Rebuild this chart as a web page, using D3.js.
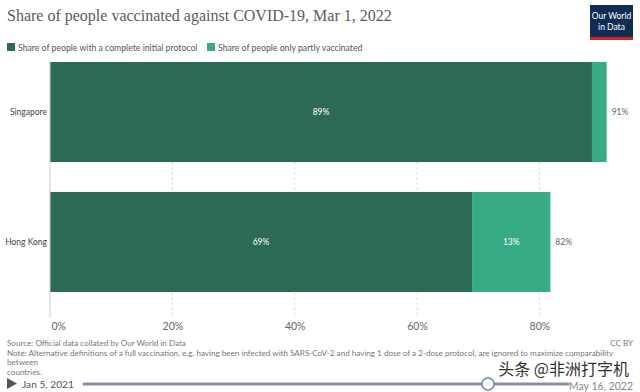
<!DOCTYPE html>
<html>
<head>
<meta charset="utf-8">
<script src="https://cdn.jsdelivr.net/npm/d3@7"></script>
<style>
  body { margin: 0; background: #fff; }
  svg { display: block; font-family: Lato, "DejaVu Sans", sans-serif; }
</style>
</head>
<body>
<script>
// chart values
var countries = ["Singapore", "Hong Kong"];
var complete = [88.6, 69.0];
var partly = [2.4, 12.8];
var seriesNames = ["Share of people with a complete initial protocol", "Share of people only partly vaccinated"];
var ticks = [0, 20, 40, 60, 80];

var width = 640, height = 392;
var colors = ["#2d6a55", "#36ab86"];

var svg = d3.select("body").append("svg")
  .attr("width", width)
  .attr("height", height);

// title
svg.append("text")
  .attr("x", 7).attr("y", 21)
  .attr("font-family", "'Liberation Serif', 'DejaVu Serif', serif")
  .attr("font-size", 16)
  .attr("fill", "#5b5b5b")
  .text("Share of people vaccinated against COVID-19, Mar 1, 2022");

// logo
var logo = svg.append("g").attr("transform", "translate(590,5)");
logo.append("rect").attr("width", 43).attr("height", 35).attr("fill", "#0f2d52");
logo.append("rect").attr("y", 32).attr("width", 43).attr("height", 3).attr("fill", "#ce261e");
logo.append("text").attr("x", 21.5).attr("y", 14).attr("text-anchor", "middle")
  .attr("font-size", 8.5).attr("fill", "#fff").text("Our World");
logo.append("text").attr("x", 21.5).attr("y", 25).attr("text-anchor", "middle")
  .attr("font-size", 8.5).attr("fill", "#fff").text("in Data");

// legend
var legendX = [7, 207];
var legend = svg.selectAll(".legend")
  .data(seriesNames)
  .enter().append("g")
    .attr("class", "legend")
    .attr("transform", function(d, i) { return "translate(" + legendX[i] + ",43)"; });
legend.append("rect").attr("width", 8).attr("height", 8)
  .attr("fill", function(d, i) { return colors[i]; });
legend.append("text").attr("x", 11).attr("y", 7.5)
  .attr("font-size", 8.7).attr("fill", "#555")
  .text(function(d) { return d; });

// scales
var x = d3.scaleLinear().domain([0, 100]).range([50, 661.7]);
var y = d3.scaleBand().domain(countries).range([62, 292]).paddingInner(0.23);

// gridlines
svg.selectAll(".grid")
  .data(ticks.slice(1))
  .enter().append("line")
    .attr("class", "grid")
    .attr("x1", function(d) { return x(d); })
    .attr("x2", function(d) { return x(d); })
    .attr("y1", 62).attr("y2", 318)
    .attr("stroke", "#ddd")
    .attr("stroke-dasharray", "3,2");

// axis tick labels
var xAxis = d3.axisBottom(x)
  .tickValues(ticks)
  .tickSize(0)
  .tickFormat(function(d) { return d + "%"; });
var axisG = svg.append("g")
  .attr("transform", "translate(0,321)")
  .call(xAxis);
axisG.select(".domain").remove();
axisG.selectAll("text")
  .attr("font-family", "Lato, sans-serif")
  .attr("font-size", 10.5)
  .attr("fill", "#666")
  .attr("dy", "0.6em")
  .attr("text-anchor", function(d) { return d === 0 ? "start" : "middle"; })
  .attr("dx", function(d) { return d === 0 ? 1 : 0; });

// bars
var rows = countries.map(function(c, i) {
  return { country: c, complete: complete[i], partly: partly[i] };
});

var row = svg.selectAll(".row")
  .data(rows)
  .enter().append("g")
    .attr("class", "row");

row.append("rect")
  .attr("x", x(0))
  .attr("y", function(d) { return y(d.country); })
  .attr("width", function(d) { return x(d.complete) - x(0); })
  .attr("height", y.bandwidth())
  .attr("fill", colors[0]);

row.append("rect")
  .attr("x", function(d) { return x(d.complete); })
  .attr("y", function(d) { return y(d.country); })
  .attr("width", function(d) { return x(d.complete + d.partly) - x(d.complete); })
  .attr("height", y.bandwidth())
  .attr("fill", colors[1]);

// value labels
row.append("text")
  .attr("x", function(d) { return (x(0) + x(d.complete)) / 2; })
  .attr("y", function(d) { return y(d.country) + y.bandwidth() / 2; })
  .attr("dy", "0.35em")
  .attr("text-anchor", "middle")
  .attr("font-size", 8.5).attr("fill", "#fff")
  .text(function(d) { return Math.round(d.complete) + "%"; });

row.filter(function(d) { return x(d.complete + d.partly) - x(d.complete) > 25; })
  .append("text")
  .attr("x", function(d) { return (x(d.complete) + x(d.complete + d.partly)) / 2; })
  .attr("y", function(d) { return y(d.country) + y.bandwidth() / 2; })
  .attr("dy", "0.35em")
  .attr("text-anchor", "middle")
  .attr("font-size", 8.5).attr("fill", "#fff")
  .text(function(d) { return Math.round(d.partly) + "%"; });

row.append("text")
  .attr("x", function(d) { return x(d.complete + d.partly) + 5; })
  .attr("y", function(d) { return y(d.country) + y.bandwidth() / 2; })
  .attr("dy", "0.35em")
  .attr("font-size", 8.5).attr("fill", "#666")
  .text(function(d) { return Math.round(d.complete + d.partly) + "%"; });

// country labels
row.append("text")
  .attr("x", 47)
  .attr("y", function(d) { return y(d.country) + y.bandwidth() / 2; })
  .attr("dy", "0.35em")
  .attr("text-anchor", "end")
  .attr("font-size", 8.5).attr("fill", "#444")
  .text(function(d) { return d.country; });

// zero line
svg.append("line")
  .attr("x1", x(0)).attr("x2", x(0))
  .attr("y1", 62).attr("y2", 318)
  .attr("stroke", "#ccc");

// footer
var foot = svg.append("g").attr("font-size", 8.1).attr("fill", "#777");
foot.append("text").attr("x", 7).attr("y", 346)
  .text("Source: Official data collated by Our World in Data");
foot.append("text").attr("x", 633).attr("y", 346).attr("text-anchor", "end")
  .text("CC BY");
foot.append("text").attr("x", 7).attr("y", 355.5)
  .text("Note: Alternative definitions of a full vaccination, e.g. having been infected with SARS-CoV-2 and having 1 dose of a 2-dose protocol, are ignored to maximize comparability");
foot.append("text").attr("x", 7).attr("y", 365).text("between");
foot.append("text").attr("x", 7).attr("y", 374.5).text("countries.");

// timeline
svg.append("path")
  .attr("d", "M7,378 L17,383.5 L7,389 Z")
  .attr("fill", "#555");
svg.append("text").attr("x", 22).attr("y", 388)
  .attr("font-size", 10.2).attr("fill", "#555")
  .text("Jan 5, 2021");
svg.append("line")
  .attr("x1", 84).attr("x2", 568)
  .attr("y1", 384).attr("y2", 384)
  .attr("stroke", "#8792a6").attr("stroke-width", 3).attr("stroke-linecap", "round");
svg.append("circle")
  .attr("cx", 488).attr("cy", 384).attr("r", 6)
  .attr("fill", "#fff").attr("stroke", "#6f86a8").attr("stroke-width", 1.5);
svg.append("text").attr("x", 633).attr("y", 390).attr("text-anchor", "end")
  .attr("font-size", 10.5).attr("fill", "#888")
  .text("May 16, 2022");

// watermark
svg.append("text").attr("x", 629).attr("y", 375).attr("text-anchor", "end")
  .attr("font-family", "'Noto Sans CJK SC', sans-serif")
  .attr("font-size", 16)
  .attr("fill", "#333")
  .attr("stroke", "#fff").attr("stroke-width", 2.5).attr("paint-order", "stroke")
  .text("头条 @非洲打字机");
</script>
</body>
</html>
